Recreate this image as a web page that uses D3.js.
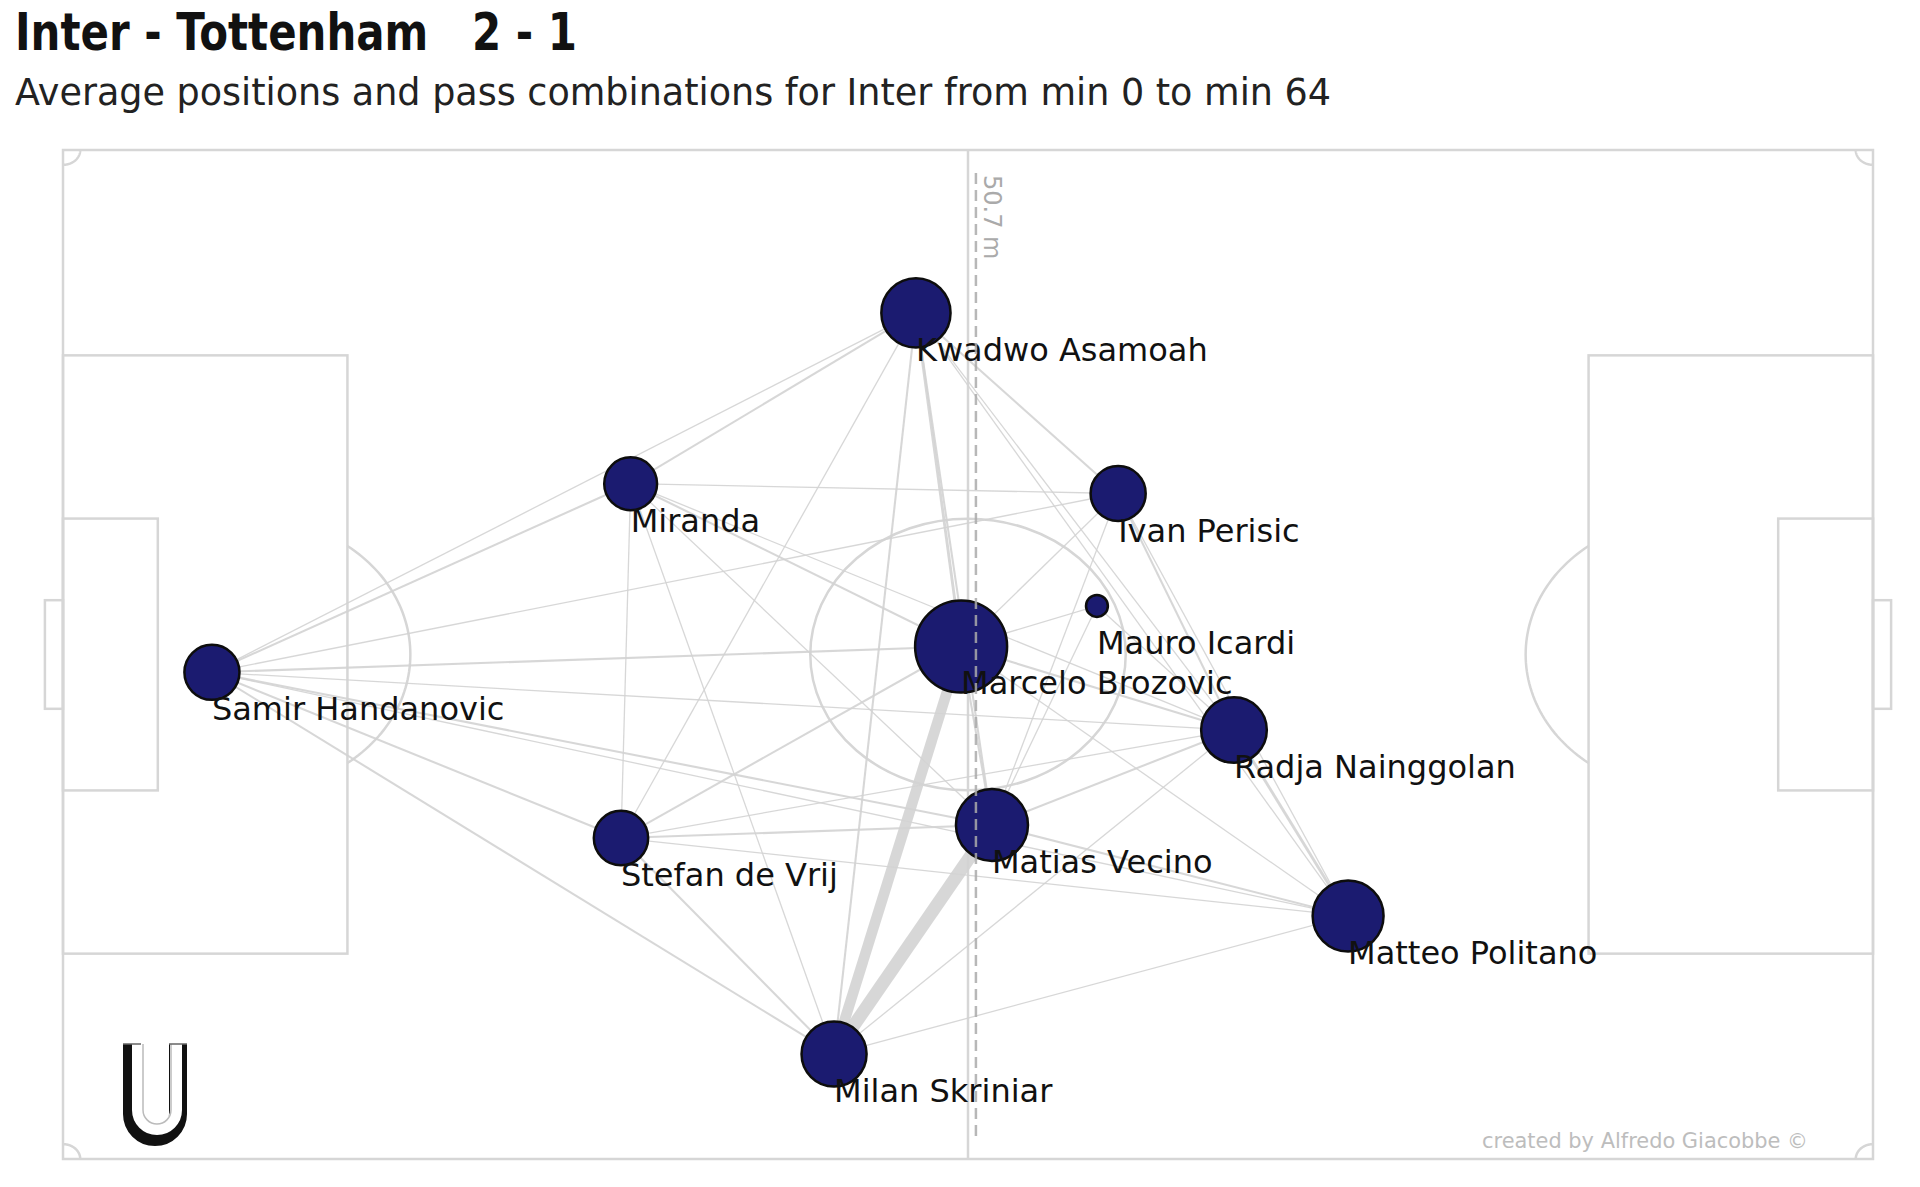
<!DOCTYPE html>
<html>
<head>
<meta charset="utf-8">
<script src="https://cdn.jsdelivr.net/npm/d3@7"></script>
<style>
  html, body { margin: 0; padding: 0; background: #fff; }
  svg { display: block; }
  text { font-family: "Century Gothic", "DejaVu Sans", sans-serif; white-space: pre; }
</style>
</head>
<body>
<main></main>
<script>
// data
const ids     = ["H", "Mi", "K", "P", "I", "B", "N", "V", "Po", "S", "D"];
const players = ["Samir Handanovic", "Miranda", "Kwadwo Asamoah", "Ivan Perisic", "Mauro Icardi",
                 "Marcelo Brozovic", "Radja Nainggolan", "Matias Vecino", "Matteo Politano",
                 "Milan Skriniar", "Stefan de Vrij"];
// average positions in metres (pitch 105 x 68)
const posX    = [8.64, 32.93, 49.48, 61.21, 59.98, 52.1, 67.93, 53.89, 74.55, 44.73, 32.37];
const posY    = [35.2, 22.49, 10.98, 23.15, 30.73, 33.46, 39.09, 45.49, 51.62, 60.93, 46.37];
const passes  = [38, 35, 60, 38, 6, 106, 54, 65, 63, 53, 37];

// pass combinations [from, to, count]
const links = [
    ["H", "K", 1], ["H", "Mi", 2], ["H", "P", 1], ["H", "B", 2], ["H", "N", 1],
    ["H", "V", 2], ["H", "Po", 1], ["H", "D", 2], ["H", "S", 2],
    ["Mi", "K", 2], ["Mi", "P", 1], ["Mi", "B", 2], ["Mi", "N", 1], ["Mi", "V", 1],
    ["Mi", "D", 1], ["Mi", "S", 1],
    ["K", "B", 3], ["K", "V", 2], ["K", "S", 2], ["K", "D", 1], ["K", "P", 2],
    ["K", "N", 1], ["K", "Po", 1],
    ["P", "B", 1], ["P", "N", 2], ["P", "Po", 1], ["P", "V", 1],
    ["I", "B", 1], ["I", "V", 1], ["I", "N", 1],
    ["B", "N", 2], ["B", "V", 2], ["B", "Po", 1], ["B", "D", 2], ["B", "S", 13],
    ["N", "V", 2], ["N", "Po", 3], ["N", "S", 1], ["N", "D", 1],
    ["V", "Po", 2], ["V", "D", 2], ["V", "S", 16],
    ["Po", "S", 1], ["Po", "D", 1],
    ["S", "D", 2]
];

const teamLine = 52.96;
const teamLineLabel = "50.7 m";
const title = "Inter - Tottenham   2 - 1";
const subtitle = "Average positions and pass combinations for Inter from min 0 to min 64";
const credit = "created by Alfredo Giacobbe \u00a9";

// SVG
const width = 1920, height = 1187;
const svg = d3.select("main").append("svg")
    .attr("width", width)
    .attr("height", height);

const x = d3.scaleLinear().domain([0, 105]).range([63, 1873]);
const y = d3.scaleLinear().domain([0, 68]).range([150, 1159]);
const r = d3.scaleSqrt().domain([0, 106]).range([0, 46]);
const w = d3.scaleLinear().domain([1, 16]).range([1.3, 13]);

// titles
svg.append("text")
    .attr("x", 15).attr("y", 50)
    .attr("font-size", 52).attr("font-weight", "bold")
    .attr("textLength", 562).attr("lengthAdjust", "spacingAndGlyphs")
    .attr("fill", "#111")
    .text(title);

svg.append("text")
    .attr("x", 15).attr("y", 105)
    .attr("font-size", 37)
    .attr("textLength", 1316).attr("lengthAdjust", "spacingAndGlyphs")
    .attr("fill", "#222")
    .text(subtitle);

// pitch
const pitch = svg.append("g")
    .attr("fill", "none")
    .attr("stroke", "#d6d6d6")
    .attr("stroke-width", 2.5);

const rect = (x0, y0, x1, y1) => pitch.append("rect")
    .attr("x", x(x0)).attr("y", y(y0))
    .attr("width", x(x1) - x(x0)).attr("height", y(y1) - y(y0));

rect(0, 0, 105, 68);
rect(0, 13.84, 16.5, 54.16);
rect(88.5, 13.84, 105, 54.16);
rect(0, 24.84, 5.5, 43.16);
rect(99.5, 24.84, 105, 43.16);
rect(-1.05, 30.34, 0, 37.66);
rect(105, 30.34, 106.05, 37.66);

pitch.append("line")
    .attr("x1", x(52.5)).attr("x2", x(52.5))
    .attr("y1", y(0)).attr("y2", y(68));

pitch.append("ellipse")
    .attr("cx", x(52.5)).attr("cy", y(34))
    .attr("rx", x(9.15) - x(0)).attr("ry", y(9.15) - y(0));

const arc = (cx, cy, rad, a0, a1) => {
    const pts = d3.range(0, 61).map(i => {
        const a = a0 + (a1 - a0) * i / 60;
        return [x(cx + rad * Math.cos(a)), y(cy + rad * Math.sin(a))];
    });
    pitch.append("path").attr("d", d3.line()(pts));
};

const th = Math.acos(5.5 / 9.15);
arc(11, 34, 9.15, -th, th);
arc(94, 34, 9.15, Math.PI - th, Math.PI + th);
arc(0, 0, 1, 0, Math.PI / 2);
arc(105, 0, 1, Math.PI / 2, Math.PI);
arc(0, 68, 1, -Math.PI / 2, 0);
arc(105, 68, 1, Math.PI, 1.5 * Math.PI);

// links
const byId = new Map(ids.map((id, i) => [id, i]));

svg.append("g")
    .selectAll("line")
    .data(links)
    .enter().append("line")
    .attr("x1", d => x(posX[byId.get(d[0])]))
    .attr("y1", d => y(posY[byId.get(d[0])]))
    .attr("x2", d => x(posX[byId.get(d[1])]))
    .attr("y2", d => y(posY[byId.get(d[1])]))
    .attr("stroke", "#d3d3d3")
    .attr("stroke-opacity", 0.9)
    .attr("stroke-width", d => w(d[2]));

// nodes
const node = svg.append("g")
    .selectAll("g")
    .data(ids)
    .enter().append("g")
    .attr("transform", (d, i) => `translate(${x(posX[i])},${y(posY[i])})`);

node.append("circle")
    .attr("r", (d, i) => r(passes[i]))
    .attr("fill", "#1b1b70")
    .attr("stroke", "#0d0d0d")
    .attr("stroke-width", 2.5);

// team line
svg.append("line")
    .attr("x1", x(teamLine)).attr("x2", x(teamLine))
    .attr("y1", 173).attr("y2", 1140)
    .attr("stroke", "#aaa")
    .attr("stroke-opacity", 0.85)
    .attr("stroke-width", 2.5)
    .attr("stroke-dasharray", "11 6");

svg.append("text")
    .attr("transform", `translate(${x(teamLine) + 8},175) rotate(90)`)
    .attr("font-size", 24)
    .attr("fill", "#aaa")
    .text(teamLineLabel);

// labels
node.append("text")
    .attr("x", 0).attr("y", 48)
    .attr("font-size", 32)
    .attr("fill", "#111")
    .text((d, i) => players[i]);

// logo
const logo = svg.append("g").attr("fill", "none");
logo.append("path").attr("d", "M132,1044 V1114 A23,23 0 0 0 178,1114 V1044")
    .attr("stroke", "#111").attr("stroke-width", 18);
logo.append("path").attr("d", "M138,1044 V1110 A19,19 0 0 0 176,1110 V1044")
    .attr("stroke", "#fff").attr("stroke-width", 12);
logo.append("path").attr("d", "M143,1044 V1110 A14,14 0 0 0 171,1110 V1044")
    .attr("stroke", "#bbb").attr("stroke-width", 1.5);
logo.append("path").attr("d", "M123,1044 H141 M169,1044 H187")
    .attr("stroke", "#666").attr("stroke-width", 1.5);
</script>
<script>
// credit
d3.select("svg").append("text")
    .attr("x", 1482).attr("y", 1148)
    .attr("font-size", 21)
    .attr("textLength", 326).attr("lengthAdjust", "spacingAndGlyphs")
    .attr("fill", "#bdbdbd")
    .text(credit);
</script>
</body>
</html>
